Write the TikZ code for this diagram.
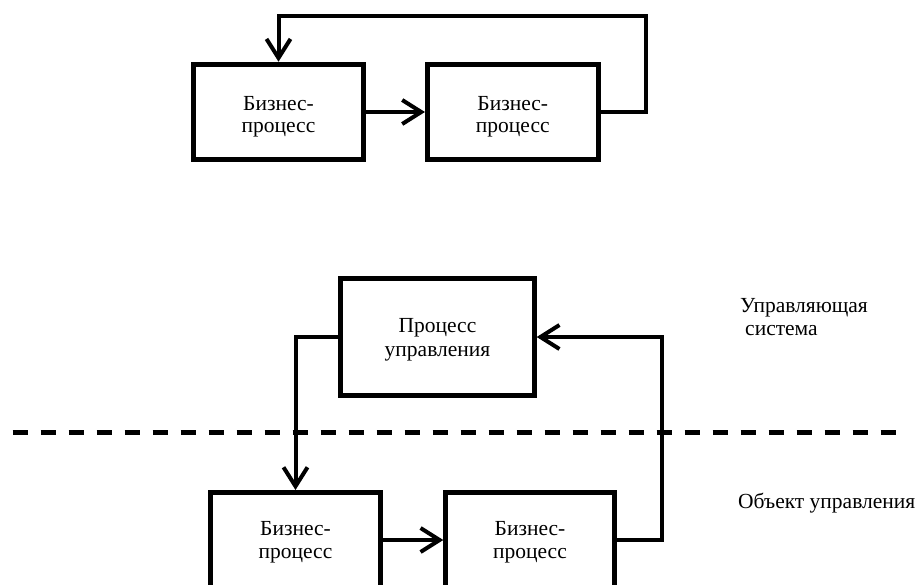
\documentclass[tikz,border=0pt]{standalone}
\usepackage{fontspec}
\setmainfont{Liberation Serif}
\usetikzlibrary{arrows.meta}
\tikzset{
  box/.style={draw, line width=5pt, rectangle, inner sep=0pt},
  conn/.style={line width=4pt, line join=miter},
  arr/.style={conn, -{Straight Barb[length=19pt,width=24pt]}},
  txt/.style={inner sep=0pt, anchor=base, font=\fontsize{21.5}{24}\selectfont},
  txtl/.style={txt, anchor=base west},
  divider/.style={line width=4.5pt, dash pattern=on 15.7pt off 12.3pt}
}
\begin{document}
\begin{tikzpicture}[x=1pt,y=-1pt]
\useasboundingbox (0,0) rectangle (917,584);
\clip (0,0) rectangle (917,584);
% top group
\node[box, minimum width=170pt, minimum height=95.6pt] (t1) at (278.5,112) {};
\node[box, minimum width=170.7pt, minimum height=95.6pt] (t2) at (512.8,112) {};
\node[txt] (t1a) at (278.5,110) {Бизнес-};
\node[txt] (t1b) at (278.5,132.5) {процесс};
\node[txt] (t2a) at (512.8,110) {Бизнес-};
\node[txt] (t2b) at (512.8,132.5) {процесс};
\coordinate (tc) at (646,16);
\draw[arr] (t1.east) -- (t2.west);
\draw[arr] (t2.east) -| (tc) -| (t1.north);
% process of management
\node[box, minimum width=193.4pt, minimum height=117.6pt] (p) at (437.5,337) {};
\node[txt] (pa) at (437.5,332.5) {Процесс};
\node[txt] (pb) at (437.5,356) {управления};
% lower group
\node[box, minimum width=169.4pt, minimum height=95pt] (b1) at (295.5,540) {};
\node[box, minimum width=168.4pt, minimum height=95pt] (b2) at (530,540) {};
\node[txt] (b1a) at (295.5,535.5) {Бизнес-};
\node[txt] (b1b) at (295.5,558) {процесс};
\node[txt] (b2a) at (530,535.5) {Бизнес-};
\node[txt] (b2b) at (530,558) {процесс};
\coordinate (rc) at (662.3,337);
\draw[arr] (p.west) -| (b1.north);
\draw[arr] (b1.east) -- (b2.west);
\draw[arr] (b2.east) -| (rc) -- (p.east);
% divider
\coordinate (d1) at (12.7,432.5);
\coordinate (d2) at (897,432.5);
\draw[divider] (d1) -- (d2);
% side labels
\node[txtl] (u1) at (740,312) {Управляющая};
\node[txtl] (u2) at (745,335) {система};
\node[txtl] (o1) at (738,508) {Объект управления};
\end{tikzpicture}
\end{document}
